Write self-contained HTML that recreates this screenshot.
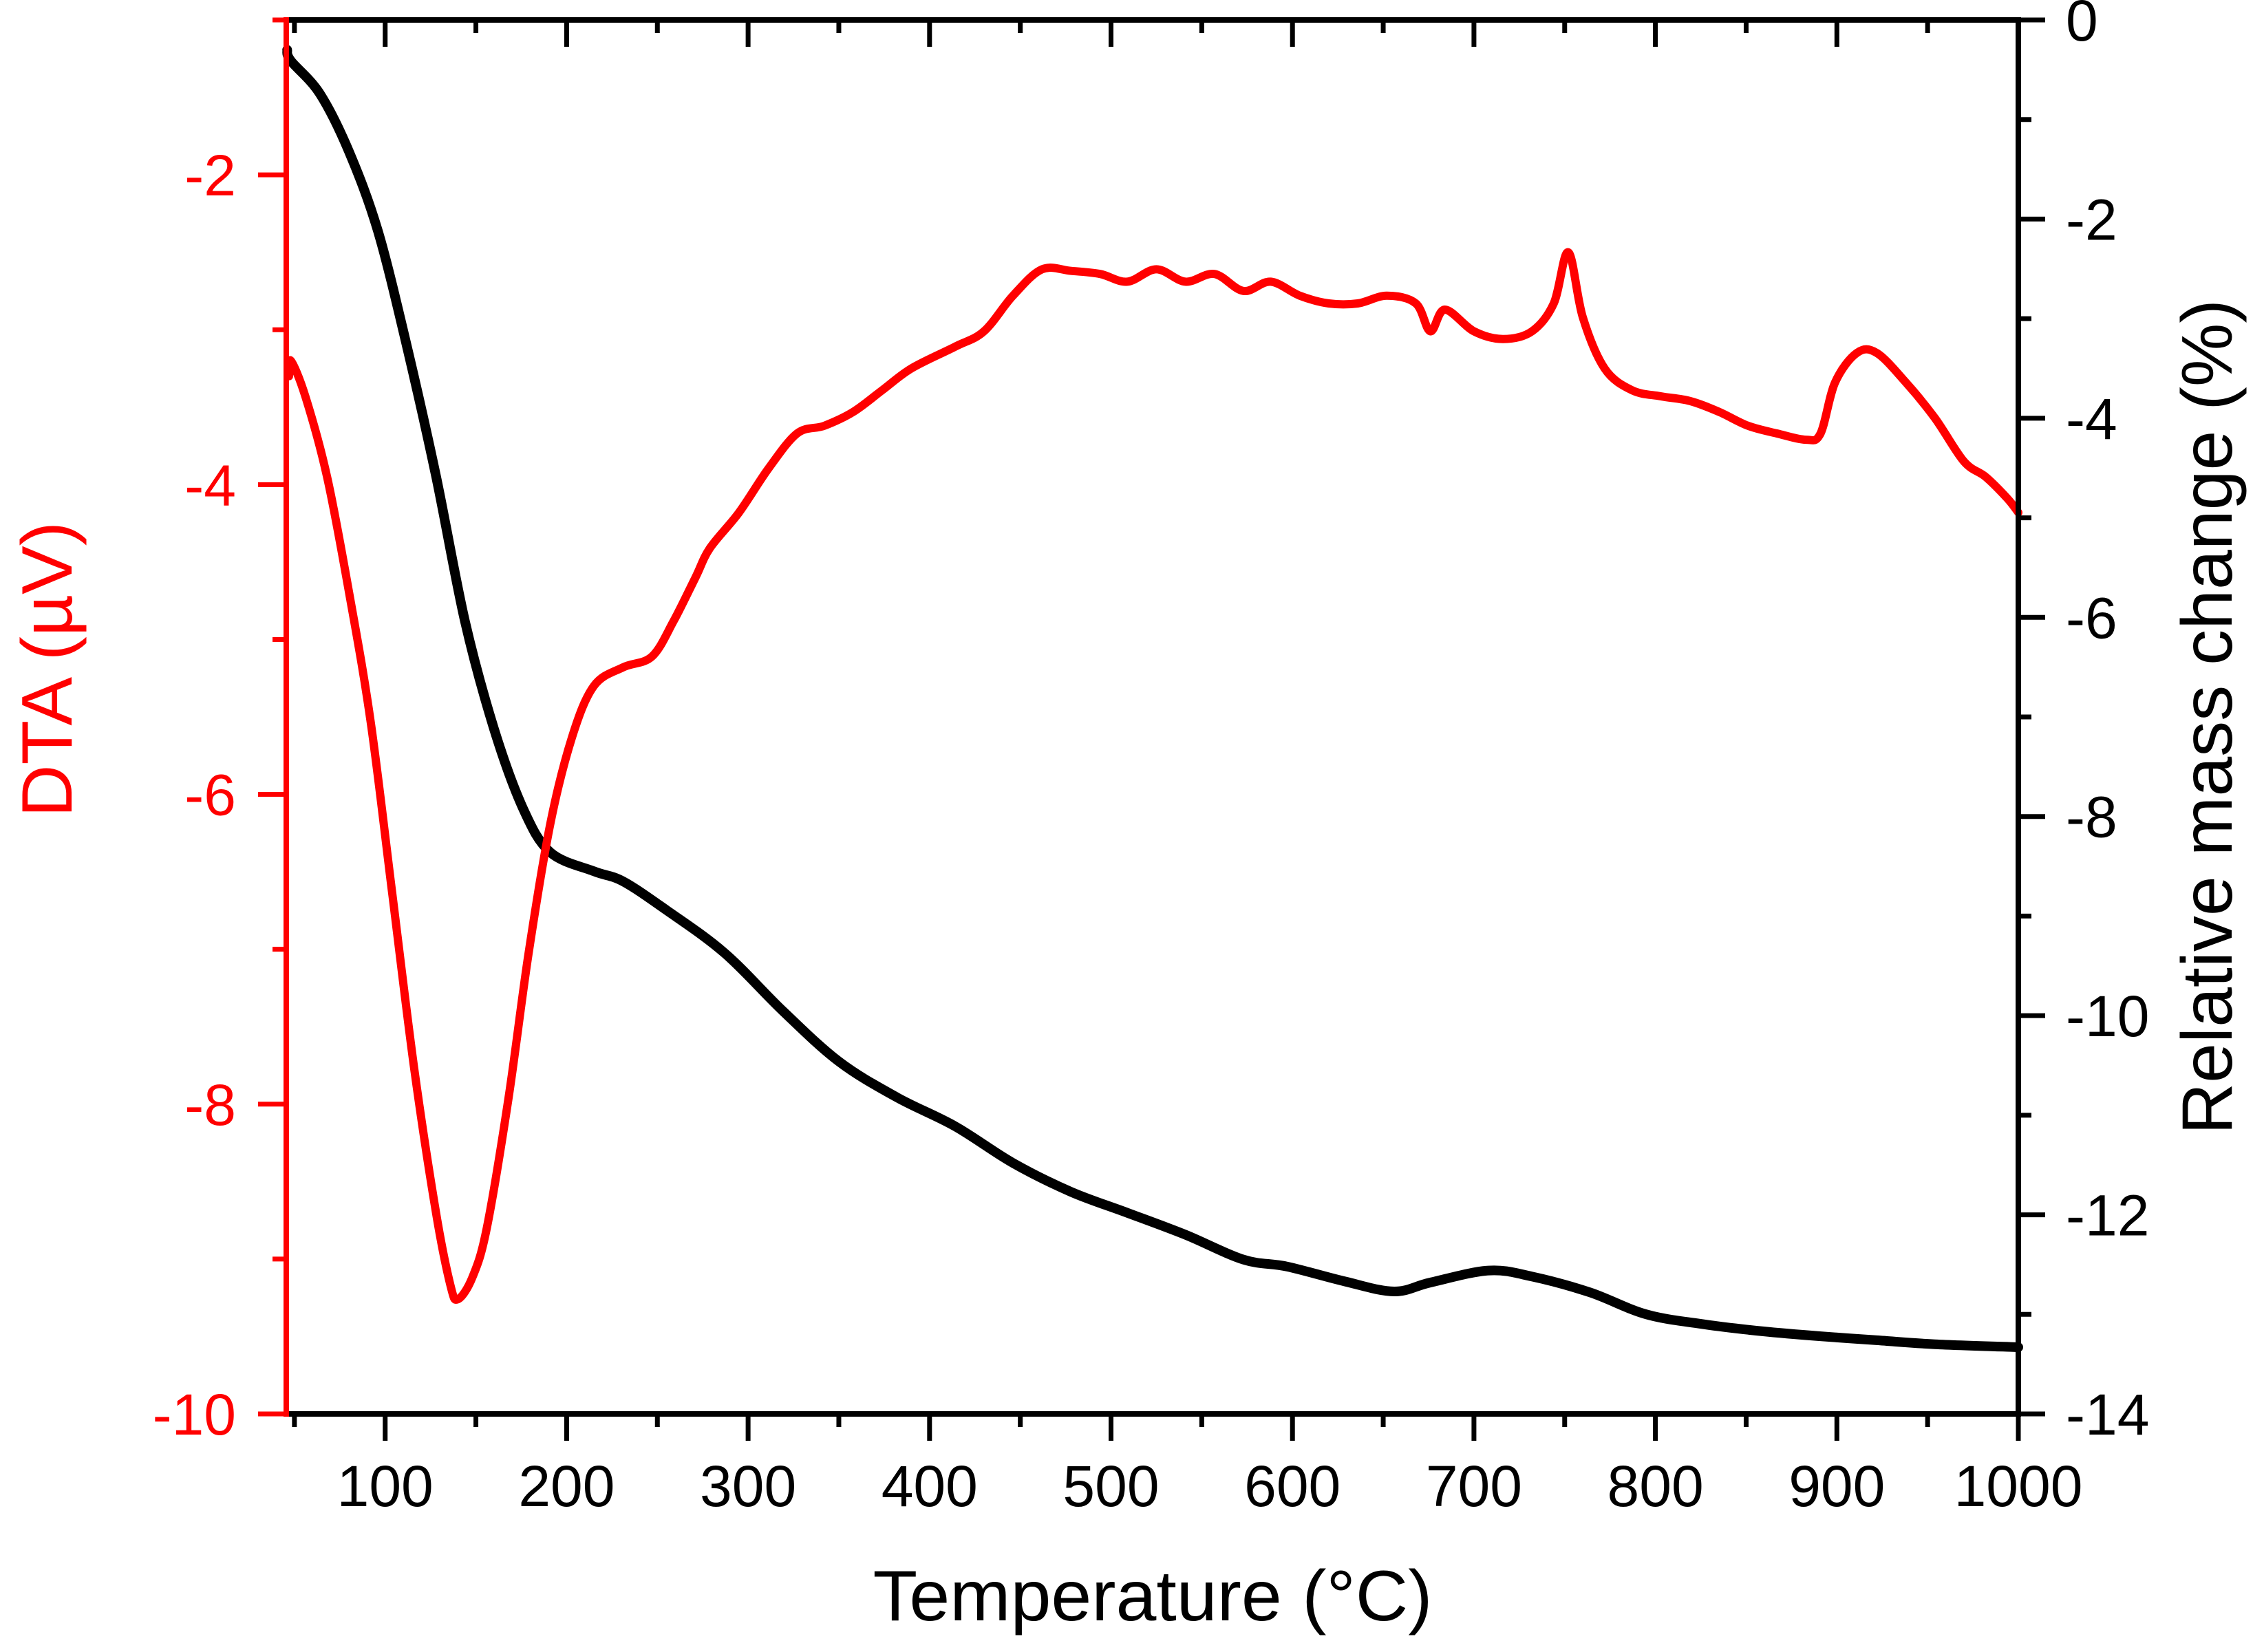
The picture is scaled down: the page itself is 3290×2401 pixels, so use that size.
<!DOCTYPE html>
<html><head><meta charset="utf-8"><style>
html,body{margin:0;padding:0;background:#fff;}
svg{display:block;font-family:"Liberation Sans",Arial,sans-serif;}
</style></head><body>
<svg id="chart" width="3290" height="2401" viewBox="0 0 3290 2401" xmlns="http://www.w3.org/2000/svg">
<rect width="3290" height="2401" fill="#fff"/>
<g id="ticks"></g>
<g id="labels"></g>
<g id="series"></g>
<g id="axes"></g>
<text x="1675" y="2355" font-size="104" text-anchor="middle" textLength="813" lengthAdjust="spacingAndGlyphs">Temperature (°C)</text>
<text transform="translate(104,973) rotate(-90)" font-size="104" fill="#ff0000" text-anchor="middle" textLength="430" lengthAdjust="spacingAndGlyphs">DTA (µV)</text>
<text transform="translate(3243,1042) rotate(-90)" font-size="104" text-anchor="middle" textLength="1214" lengthAdjust="spacingAndGlyphs">Relative mass change (%)</text>
</svg>
<script>
const xMajorTicks=[100,200,300,400,500,600,700,800,900,1000];
const xMinorTicks=[50,150,250,350,450,550,650,750,850,950];
const leftMajorTicks=[-2,-4,-6,-8,-10];
const leftMinorTicks=[-1,-3,-5,-7,-9];
const rightMajorTicks=[0,-2,-4,-6,-8,-10,-12,-14];
const rightMinorTicks=[-1,-3,-5,-7,-9,-11,-13];
const massT=[46,48,64,80,96,112,128,144,160,176,191,215,231,255,287,319,350,382,414,446,478,509,541,573,597,629,656,676,708,732,764,795,827,859,891,922,954,1000];
const massV=[-0.3,-0.41,-0.74,-1.32,-2.12,-3.28,-4.58,-6.04,-7.12,-7.92,-8.36,-8.55,-8.65,-8.94,-9.37,-9.95,-10.46,-10.82,-11.11,-11.48,-11.77,-11.98,-12.2,-12.45,-12.52,-12.67,-12.77,-12.68,-12.56,-12.62,-12.78,-13.0,-13.1,-13.17,-13.22,-13.26,-13.3,-13.33];
const dtaT=[47,48,56,68,80,92,104,116,128,136,140,148,156,168,179,191,203,215,231,247,259,271,279,295,311,327,342,358,374,390,414,430,446,462,478,494,509,525,541,557,573,588,604,620,636,652,668,676,684,700,716,732,744,752,760,772,787,803,819,835,851,867,883,891,899,911,922,938,954,970,982,994,1000];
const dtaV=[-3.3,-3.2,-3.43,-3.95,-4.69,-5.53,-6.65,-7.77,-8.7,-9.17,-9.26,-9.12,-8.8,-7.96,-7.03,-6.19,-5.63,-5.3,-5.18,-5.11,-4.88,-4.6,-4.41,-4.18,-3.9,-3.67,-3.62,-3.53,-3.39,-3.25,-3.11,-3.01,-2.78,-2.61,-2.62,-2.64,-2.69,-2.61,-2.69,-2.64,-2.75,-2.69,-2.78,-2.83,-2.83,-2.78,-2.83,-3.01,-2.87,-3.01,-3.06,-3.01,-2.83,-2.5,-2.92,-3.25,-3.39,-3.43,-3.46,-3.53,-3.62,-3.67,-3.71,-3.67,-3.34,-3.15,-3.15,-3.34,-3.57,-3.85,-3.95,-4.09,-4.18];

const PL=416,PR=2933,PT=29,PB=2055;
const X0=45.5,X1=1000;
function xs(t){return PL+(t-X0)/(X1-X0)*(PR-PL);}
function yl(v){return PT+(-1-v)/9*(PB-PT);}
function yr(v){return PT+(0-v)/14*(PB-PT);}
const NS='http://www.w3.org/2000/svg';
function mk(tag,parent,attrs){const e=document.createElementNS(NS,tag);for(const k in attrs)e.setAttribute(k,attrs[k]);parent.appendChild(e);return e;}
function smooth(pts){let d='M'+pts[0][0].toFixed(1)+' '+pts[0][1].toFixed(1);
 for(let i=0;i<pts.length-1;i++){const p0=pts[Math.max(0,i-1)],p1=pts[i],p2=pts[i+1],p3=pts[Math.min(pts.length-1,i+2)];
  const c1x=p1[0]+(p2[0]-p0[0])/6,c1y=p1[1]+(p2[1]-p0[1])/6,c2x=p2[0]-(p3[0]-p1[0])/6,c2y=p2[1]-(p3[1]-p1[1])/6;
  d+=' C'+c1x.toFixed(1)+' '+c1y.toFixed(1)+' '+c2x.toFixed(1)+' '+c2y.toFixed(1)+' '+p2[0].toFixed(1)+' '+p2[1].toFixed(1);}
 return d;}
const gT=document.getElementById('ticks'),gL=document.getElementById('labels'),gS=document.getElementById('series'),gA=document.getElementById('axes');

xMajorTicks.forEach(t=>{const x=xs(t);
 let a=mk('line',gT,{x1:x,x2:x,y1:PB,y2:PB+39,stroke:'#000','stroke-width':7});
 
 
 let b=mk('line',gT,{x1:x,x2:x,y1:PT,y2:PT+39,stroke:'#000','stroke-width':7});
 
 
 let s=mk('text',gL,{x:x,y:2189,'font-size':84,'text-anchor':'middle'});s.textContent=t;
 
 
});
xMinorTicks.forEach(t=>{const x=xs(t);
 let a=mk('line',gT,{x1:x,x2:x,y1:PB,y2:PB+19,stroke:'#000','stroke-width':7});
 
 
 let b=mk('line',gT,{x1:x,x2:x,y1:PT,y2:PT+19,stroke:'#000','stroke-width':7});
 
 
});
leftMajorTicks.forEach(v=>{const y=yl(v);
 let a=mk('line',gT,{x1:PL-41,x2:PL,y1:y,y2:y,stroke:'#ff0000','stroke-width':7});
 
 
 let s=mk('text',gL,{x:343,y:y+30,'font-size':84,'text-anchor':'end',fill:'#ff0000'});s.textContent=v;
 
 
});
leftMinorTicks.forEach(v=>{const y=yl(v);
 let a=mk('line',gT,{x1:PL-20,x2:PL,y1:y,y2:y,stroke:'#ff0000','stroke-width':7});
 
 
});
rightMajorTicks.forEach(v=>{const y=yr(v);
 let a=mk('line',gT,{x1:PR,x2:PR+39,y1:y,y2:y,stroke:'#000','stroke-width':7});
 
 
 let s=mk('text',gL,{x:3002,y:y+30,'font-size':84,'text-anchor':'start'});s.textContent=v;
 
 
});
rightMinorTicks.forEach(v=>{const y=yr(v);
 let a=mk('line',gT,{x1:PR,x2:PR+19,y1:y,y2:y,stroke:'#000','stroke-width':7});
 
 
});

const dm=smooth(massT.map((t,i)=>[xs(t),yr(massV[i])]));
const pm=mk('path',gS,{d:dm,fill:'none',stroke:'#000','stroke-width':14,'stroke-linejoin':'round','stroke-linecap':'round'});


const dd=smooth(dtaT.map((t,i)=>[xs(t),yl(dtaV[i])]));
const pd=mk('path',gS,{d:dd,fill:'none',stroke:'#ff0000','stroke-width':12,'stroke-linejoin':'round','stroke-linecap':'round'});



const axisTop=mk('line',gA,{x1:PL,x2:PR+4,y1:PT,y2:PT,stroke:'#000','stroke-width':8});


const axisBottom=mk('line',gA,{x1:PL,x2:PR+4,y1:PB,y2:PB,stroke:'#000','stroke-width':8});


const axisRight=mk('line',gA,{x1:PR,x2:PR,y1:PT-4,y2:PB+4,stroke:'#000','stroke-width':8});


const axisLeft=mk('line',gA,{x1:PL,x2:PL,y1:PT-4,y2:PB+4,stroke:'#ff0000','stroke-width':8});


</script>
</body></html>
